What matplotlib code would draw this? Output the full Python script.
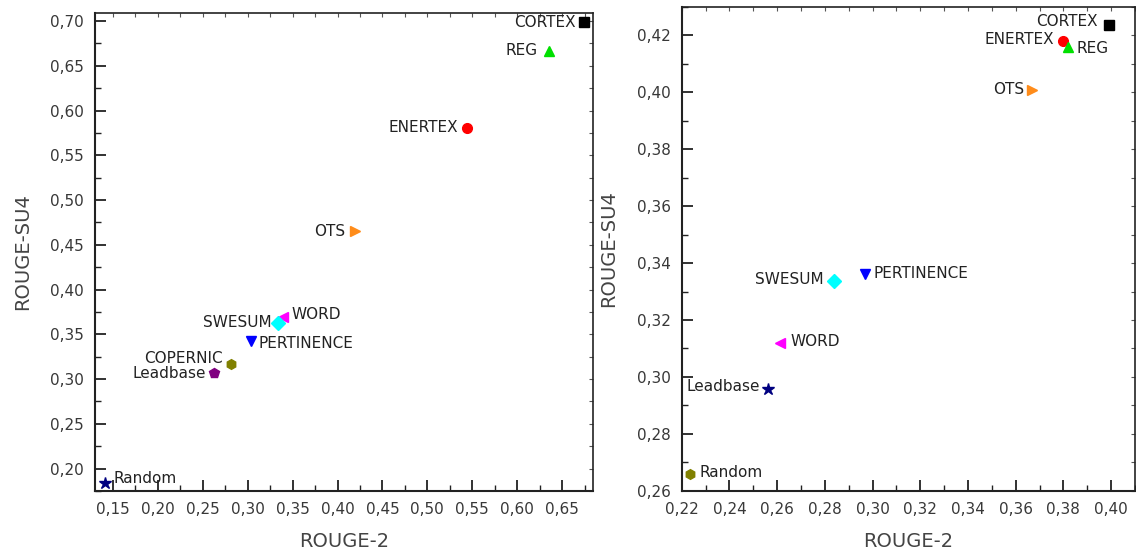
import numpy as np
import matplotlib
matplotlib.use('Agg')
import matplotlib.pyplot as plt
from matplotlib.ticker import MultipleLocator, FuncFormatter

# left panel: ROUGE-2 vs ROUGE-SU4
left_names = ['CORTEX', 'REG', 'ENERTEX', 'OTS', 'WORD', 'SWESUM', 'PERTINENCE', 'COPERNIC', 'Leadbase', 'Random']
left_r2 = [0.674, 0.635, 0.544, 0.419, 0.339, 0.334, 0.304, 0.281, 0.263, 0.141]
left_su4 = [0.6985, 0.666, 0.581, 0.465, 0.369, 0.363, 0.343, 0.317, 0.3065, 0.184]

# right panel
right_names = ['CORTEX', 'ENERTEX', 'REG', 'OTS', 'PERTINENCE', 'SWESUM', 'WORD', 'Leadbase', 'Random']
right_r2 = [0.399, 0.380, 0.382, 0.367, 0.297, 0.284, 0.2614, 0.2562, 0.2233]
right_su4 = [0.4235, 0.418, 0.416, 0.401, 0.336, 0.3337, 0.312, 0.2958, 0.2659]

# marker style per system
styles = {
    'CORTEX': ('s', '#000000'),
    'REG': ('^', '#00e000'),
    'ENERTEX': ('o', '#ff0000'),
    'OTS': ('>', '#ff8c1a'),
    'WORD': ('<', '#ff00ff'),
    'SWESUM': ('D', '#00ffff'),
    'PERTINENCE': ('v', '#0000ff'),
    'COPERNIC': ('h', '#808000'),
}
left_extra = {'Leadbase': ('p', '#800080'), 'Random': ('*', '#000080')}
right_extra = {'Leadbase': ('*', '#000080'), 'Random': ('h', '#808000')}

# label placement (offset in points, side)
left_lab = {
    'CORTEX': (-6, 0, 'right'), 'REG': (-8, 1, 'right'), 'ENERTEX': (-6, 0, 'right'),
    'OTS': (-7, 0, 'right'), 'WORD': (6, 2, 'left'), 'SWESUM': (-5, 0, 'right'),
    'PERTINENCE': (5, -2, 'left'), 'COPERNIC': (-6, 4, 'right'),
    'Leadbase': (-6, 0, 'right'), 'Random': (6, 3, 'left'),
}
right_lab = {
    'CORTEX': (-8, 3, 'right'), 'ENERTEX': (-7, 1, 'right'), 'REG': (6, -1, 'left'),
    'OTS': (-6, 0, 'right'), 'PERTINENCE': (6, 1, 'left'), 'SWESUM': (-8, 1, 'right'),
    'WORD': (7, 1, 'left'), 'Leadbase': (-6, 2, 'right'), 'Random': (7, 1, 'left'),
}

comma = FuncFormatter(lambda v, p: f'{v:.2f}'.replace('.', ','))


def draw(ax, names, xs, ys, extra, labs, xlim, ylim, xmaj, ymaj):
    for n, x, y in zip(names, xs, ys):
        m, c = extra.get(n, styles.get(n))
        ms = 9 if m == '*' else 7
        ax.plot(x, y, marker=m, color=c, markersize=ms, linestyle='none', zorder=3)
        dx, dy, ha = labs[n]
        ax.annotate(n, (x, y), xytext=(dx, dy), textcoords='offset points',
                    ha=ha, va='center', fontsize=11, family='DejaVu Sans', color='#222222')
    ax.set_xlim(*xlim)
    ax.set_ylim(*ylim)
    ax.xaxis.set_major_locator(MultipleLocator(xmaj))
    ax.xaxis.set_minor_locator(MultipleLocator(xmaj / 2))
    ax.yaxis.set_major_locator(MultipleLocator(ymaj))
    ax.yaxis.set_minor_locator(MultipleLocator(ymaj / 2))
    ax.xaxis.set_major_formatter(comma)
    ax.yaxis.set_major_formatter(comma)
    ax.tick_params(which='major', direction='in', length=8, width=1.3, pad=8,
                   labelsize=11, labelcolor='#383838', color='#222222')
    ax.tick_params(which='minor', direction='in', length=4, width=1.0, color='#222222')
    for s in ax.spines.values():
        s.set_linewidth(1.5)
        s.set_color('#222222')
    ax.spines['top'].set_linewidth(1.2)
    ax.spines['right'].set_linewidth(1.2)
    # short ticks on top and right
    top = ax.secondary_xaxis('top')
    top.xaxis.set_major_locator(MultipleLocator(xmaj / 2))
    top.tick_params(direction='in', length=3, width=0.8, color='#555555', labeltop=False)
    top.spines['top'].set_visible(False)
    right = ax.secondary_yaxis('right')
    right.yaxis.set_major_locator(MultipleLocator(ymaj / 2))
    right.tick_params(direction='in', length=3, width=0.8, color='#555555', labelright=False)
    right.spines['right'].set_visible(False)
    ax.set_xlabel('ROUGE-2', fontsize=14, color='#444444', labelpad=11)
    ax.set_ylabel('ROUGE-SU4', fontsize=14, color='#444444', labelpad=13)


fig = plt.figure(figsize=(11.36, 5.55), dpi=100)
ax1 = fig.add_axes([0.0836, 0.1153, 0.4381, 0.8613])
ax2 = fig.add_axes([0.6001, 0.1159, 0.3990, 0.8715])

draw(ax1, left_names, left_r2, left_su4, left_extra, left_lab,
     (0.13, 0.684), (0.175, 0.709), 0.05, 0.05)
draw(ax2, right_names, right_r2, right_su4, right_extra, right_lab,
     (0.22, 0.41), (0.26, 0.43), 0.02, 0.02)

fig.savefig('out.png', dpi=100)
